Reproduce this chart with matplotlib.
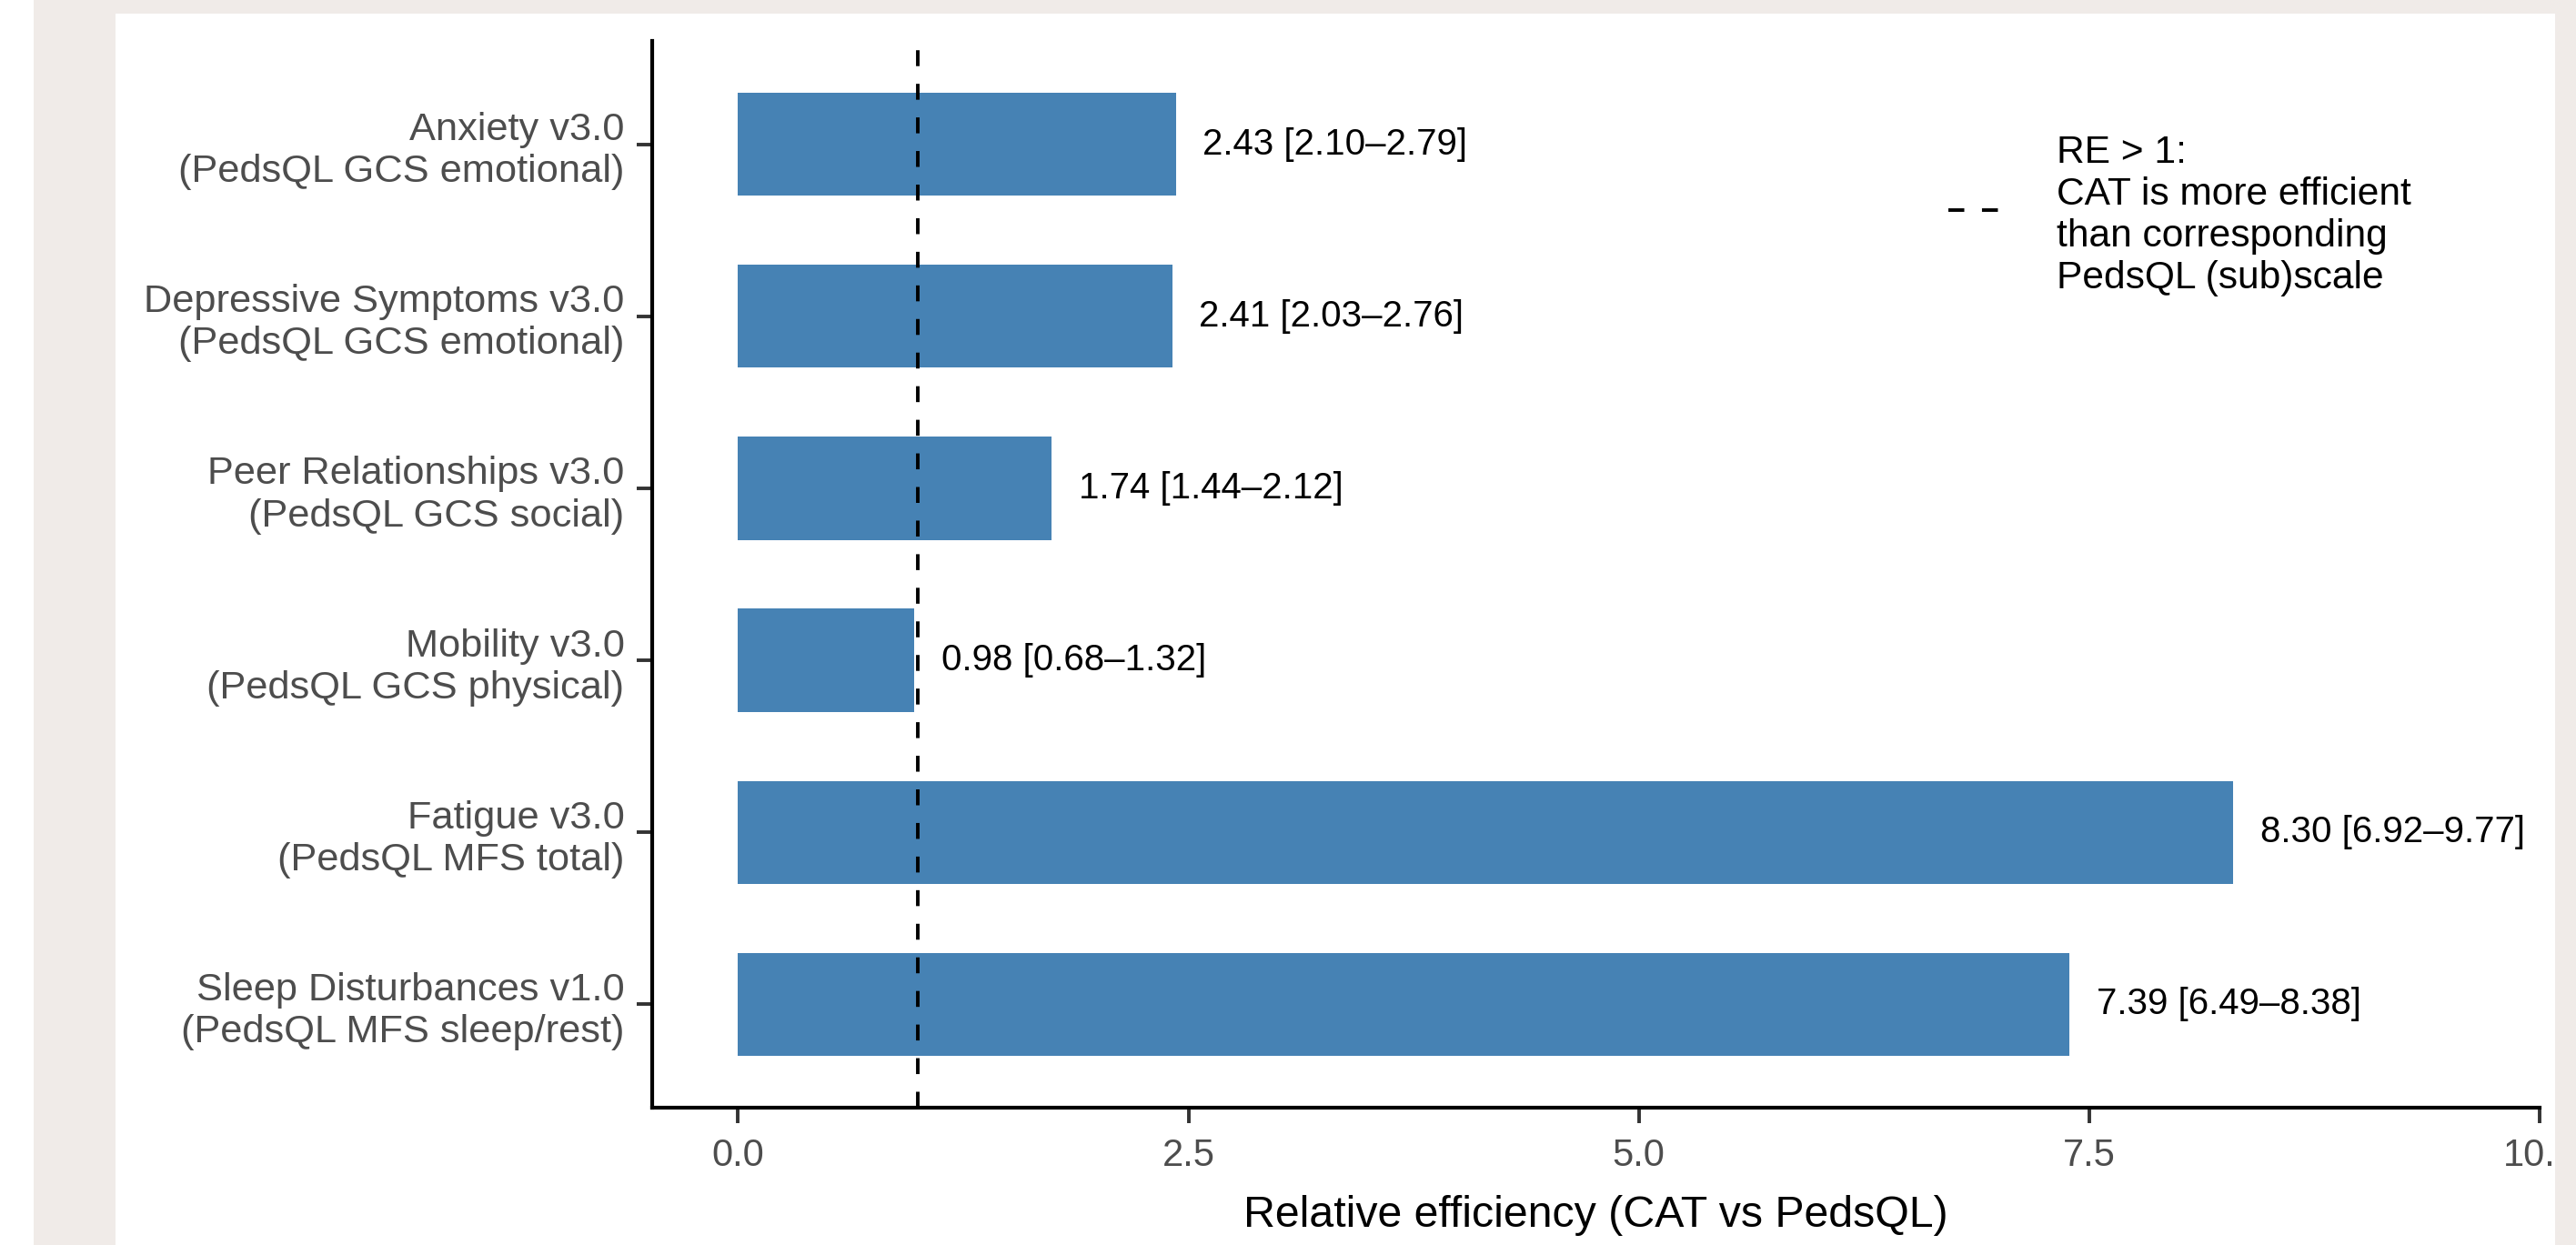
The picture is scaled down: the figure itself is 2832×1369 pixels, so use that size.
import matplotlib

matplotlib.use("Agg")
import matplotlib.pyplot as plt
from matplotlib.patches import Rectangle

plt.rcParams["font.family"] = ["Liberation Sans", "DejaVu Sans"]

# data, top to bottom as shown
SCALES = [
    "Anxiety v3.0\n(PedsQL GCS emotional)",
    "Depressive Symptoms v3.0\n(PedsQL GCS emotional)",
    "Peer Relationships v3.0\n(PedsQL GCS social)",
    "Mobility v3.0\n(PedsQL GCS physical)",
    "Fatigue v3.0\n(PedsQL MFS total)",
    "Sleep Disturbances v1.0\n(PedsQL MFS sleep/rest)",
]
RE = [2.43, 2.41, 1.74, 0.98, 8.30, 7.39]
CI_LOW = [2.10, 2.03, 1.44, 0.68, 6.92, 6.49]
CI_HIGH = [2.79, 2.76, 2.12, 1.32, 9.77, 8.38]
X_TICKS = [0.0, 2.5, 5.0, 7.5, 10.0]
REFERENCE_RE = 1.0

BAR_COLOR = "#4682b4"
FRAME_COLOR = "#f0ebe8"
TEXT_GRAY = "#4d4d4d"

fig = plt.figure(figsize=(14.16, 6.845), dpi=200, facecolor="white")
ax = fig.add_axes((0.2532, 0.1103, 0.7327, 0.8568))

ypos = list(range(len(SCALES), 0, -1))
ax.barh(ypos, RE, height=0.6, color=BAR_COLOR, zorder=2)

ax.axvline(REFERENCE_RE, color="black", linewidth=1.4,
           linestyle=(0, (4.5, 5)), zorder=3)

for y, value, lo, hi in zip(ypos, RE, CI_LOW, CI_HIGH):
    ax.text(value + 0.15, y, f"{value:.2f} [{lo:.2f}\u2013{hi:.2f}]",
            ha="left", va="center", fontsize=14.5, color="black")

ax.set_xlim(-0.476, 10.0)
ax.set_ylim(0.4, len(SCALES) + 0.6)
ax.set_xticks(X_TICKS)
ax.set_xticklabels([f"{t:.1f}" for t in X_TICKS])
ax.set_yticks(ypos)
ax.set_yticklabels(SCALES, linespacing=1.2, fontsize=15.6)
ax.set_xlabel("Relative efficiency (CAT vs PedsQL)", fontsize=17.4, labelpad=8)

for side in ("top", "right"):
    ax.spines[side].set_visible(False)
for side in ("left", "bottom"):
    ax.spines[side].set_linewidth(1.5)
    ax.spines[side].set_capstyle("projecting")
ax.tick_params(axis="both", length=6, width=1.4, color="#333333",
               labelcolor=TEXT_GRAY)
ax.tick_params(axis="x", pad=6, labelsize=15)
ax.tick_params(axis="y", pad=5)

# legend key for the reference line, drawn in axes fraction
ax.plot([0.6867, 0.7147], [0.8414, 0.8414], transform=ax.transAxes,
        color="black", linewidth=1.4, linestyle=(0, (4.5, 5)), clip_on=False)
ax.text(0.7441, 0.8365,
        "RE > 1:\nCAT is more efficient\nthan corresponding\nPedsQL (sub)scale",
        transform=ax.transAxes, ha="left", va="center", fontsize=15.3,
        linespacing=1.2, color="black")

# page frame around the cropped figure
for x0, y0, w, h in [(0.01307, 0.0, 0.03178, 1.0),
                     (0.01307, 0.98904, 0.98693, 0.01096),
                     (0.99188, 0.0, 0.00812, 1.0)]:
    fig.add_artist(Rectangle((x0, y0), w, h, transform=fig.transFigure,
                             facecolor=FRAME_COLOR, edgecolor="none", zorder=10))

fig.savefig("out.png", dpi=200, facecolor="white")
